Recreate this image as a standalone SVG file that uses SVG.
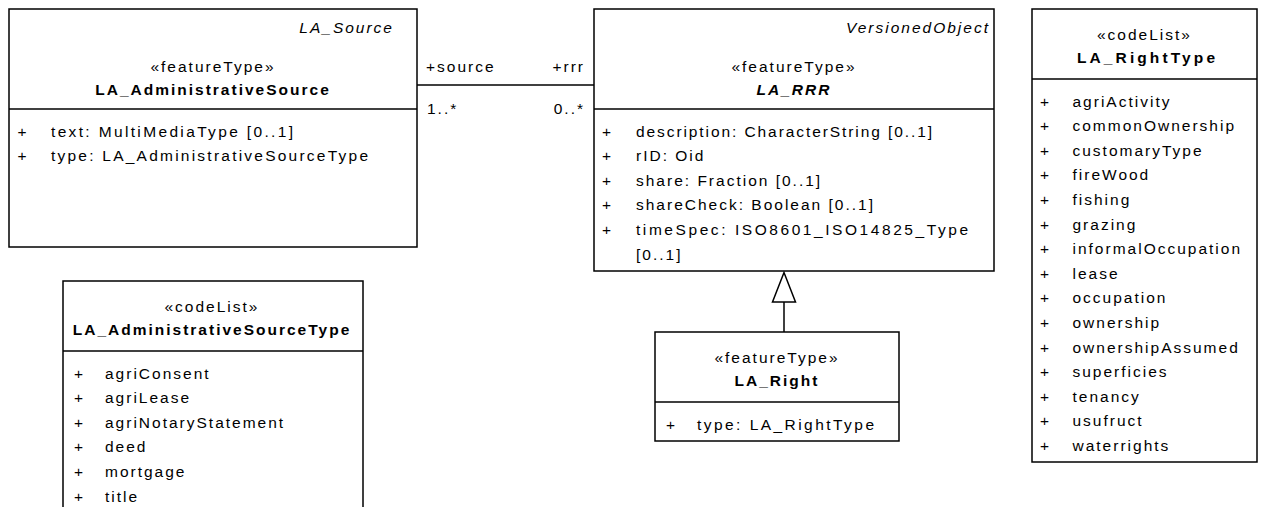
<svg xmlns="http://www.w3.org/2000/svg" width="1271" height="507" viewBox="0 0 1271 507">
<style>
.t{font-family:"Liberation Sans",Arial,sans-serif;font-size:15.5px;letter-spacing:2px;fill:#000}
.b{font-weight:bold}
.i{font-style:italic}
.m{text-anchor:middle}
.e{text-anchor:end}
.box{fill:#fff;stroke:#000;stroke-width:1.5}
.ln{fill:none;stroke:#000;stroke-width:1.5}
</style>
<rect width="1271" height="507" fill="#fff"/>
<g id="connectors">
<line class="ln" x1="417" y1="85" x2="594" y2="85"/>
<text class="t" x="426" y="72">+source</text>
<text class="t e" x="585" y="72">+rrr</text>
<text class="t" x="427" y="114">1..*</text>
<text class="t e" x="585" y="114">0..*</text>
<line class="ln" x1="784" y1="302" x2="784" y2="332"/>
<polygon class="box" points="784,272.5 772.5,302 795.5,302"/>
</g>
<g id="LA_AdministrativeSource">
<rect class="box" x="9" y="9" width="408" height="238"/>
<line class="ln" x1="9" y1="109" x2="417" y2="109"/>
<text class="t i e" x="394" y="33">LA_Source</text>
<text class="t m" x="213" y="71.5">«featureType»</text>
<text class="t b m" x="213" y="94.5">LA_AdministrativeSource</text>
<text class="t" x="17.5" y="136.5">+</text><text class="t" x="51" y="136.5" textLength="244" lengthAdjust="spacing">text: MultiMediaType [0..1]</text>
<text class="t" x="17.5" y="161.1">+</text><text class="t" x="51" y="161.1" textLength="319" lengthAdjust="spacing">type: LA_AdministrativeSourceType</text>
</g>
<g id="LA_RRR">
<rect class="box" x="594" y="9" width="400" height="262"/>
<line class="ln" x1="594" y1="109" x2="994" y2="109"/>
<text class="t i e" x="990" y="33">VersionedObject</text>
<text class="t m" x="794" y="71.5">«featureType»</text>
<text class="t b i m" x="794" y="94.5">LA_RRR</text>
<text class="t" x="602" y="136.5">+</text><text class="t" x="636" y="136.5" textLength="298" lengthAdjust="spacing">description: CharacterString [0..1]</text>
<text class="t" x="602" y="161.1">+</text><text class="t" x="636" y="161.1">rID: Oid</text>
<text class="t" x="602" y="185.7">+</text><text class="t" x="636" y="185.7">share: Fraction [0..1]</text>
<text class="t" x="602" y="210.3">+</text><text class="t" x="636" y="210.3">shareCheck: Boolean [0..1]</text>
<text class="t" x="602" y="234.9">+</text><text class="t" x="636" y="234.9" textLength="334" lengthAdjust="spacing">timeSpec: ISO8601_ISO14825_Type</text>
<text class="t" x="636" y="259.5">[0..1]</text>
</g>
<g id="LA_Right">
<rect class="box" x="655" y="332" width="244" height="109"/>
<line class="ln" x1="655" y1="402" x2="899" y2="402"/>
<text class="t m" x="777" y="362.5">«featureType»</text>
<text class="t b m" x="777" y="385.5">LA_Right</text>
<text class="t" x="666" y="429.5">+</text><text class="t" x="697" y="429.5" textLength="179" lengthAdjust="spacing">type: LA_RightType</text>
</g>
<g id="LA_AdministrativeSourceType">
<rect class="box" x="63" y="281" width="300" height="240"/>
<line class="ln" x1="63" y1="351" x2="363" y2="351"/>
<text class="t m" x="212" y="311.5">«codeList»</text>
<text class="t b m" x="212" y="334.5">LA_AdministrativeSourceType</text>
<text class="t" x="74" y="378.5">+</text><text class="t" x="105" y="378.5">agriConsent</text>
<text class="t" x="74" y="403.1">+</text><text class="t" x="105" y="403.1">agriLease</text>
<text class="t" x="74" y="427.7">+</text><text class="t" x="105" y="427.7">agriNotaryStatement</text>
<text class="t" x="74" y="452.3">+</text><text class="t" x="105" y="452.3">deed</text>
<text class="t" x="74" y="476.9">+</text><text class="t" x="105" y="476.9">mortgage</text>
<text class="t" x="74" y="501.5">+</text><text class="t" x="105" y="501.5">title</text>
</g>
<g id="LA_RightType">
<rect class="box" x="1032" y="9" width="225" height="453"/>
<line class="ln" x1="1032" y1="79" x2="1257" y2="79"/>
<text class="t m" x="1144.5" y="39.5">«codeList»</text>
<text class="t b m" x="1147" y="62.5" textLength="140" lengthAdjust="spacing">LA_RightType</text>
<text class="t" x="1040" y="106.5">+</text><text class="t" x="1072.5" y="106.5">agriActivity</text>
<text class="t" x="1040" y="131.1">+</text><text class="t" x="1072.5" y="131.1">commonOwnership</text>
<text class="t" x="1040" y="155.7">+</text><text class="t" x="1072.5" y="155.7">customaryType</text>
<text class="t" x="1040" y="180.3">+</text><text class="t" x="1072.5" y="180.3">fireWood</text>
<text class="t" x="1040" y="204.9">+</text><text class="t" x="1072.5" y="204.9">fishing</text>
<text class="t" x="1040" y="229.5">+</text><text class="t" x="1072.5" y="229.5">grazing</text>
<text class="t" x="1040" y="254.1">+</text><text class="t" x="1072.5" y="254.1">informalOccupation</text>
<text class="t" x="1040" y="278.7">+</text><text class="t" x="1072.5" y="278.7">lease</text>
<text class="t" x="1040" y="303.3">+</text><text class="t" x="1072.5" y="303.3">occupation</text>
<text class="t" x="1040" y="327.9">+</text><text class="t" x="1072.5" y="327.9">ownership</text>
<text class="t" x="1040" y="352.5">+</text><text class="t" x="1072.5" y="352.5">ownershipAssumed</text>
<text class="t" x="1040" y="377.1">+</text><text class="t" x="1072.5" y="377.1">superficies</text>
<text class="t" x="1040" y="401.7">+</text><text class="t" x="1072.5" y="401.7">tenancy</text>
<text class="t" x="1040" y="426.3">+</text><text class="t" x="1072.5" y="426.3">usufruct</text>
<text class="t" x="1040" y="450.9">+</text><text class="t" x="1072.5" y="450.9">waterrights</text>
</g>
</svg>
